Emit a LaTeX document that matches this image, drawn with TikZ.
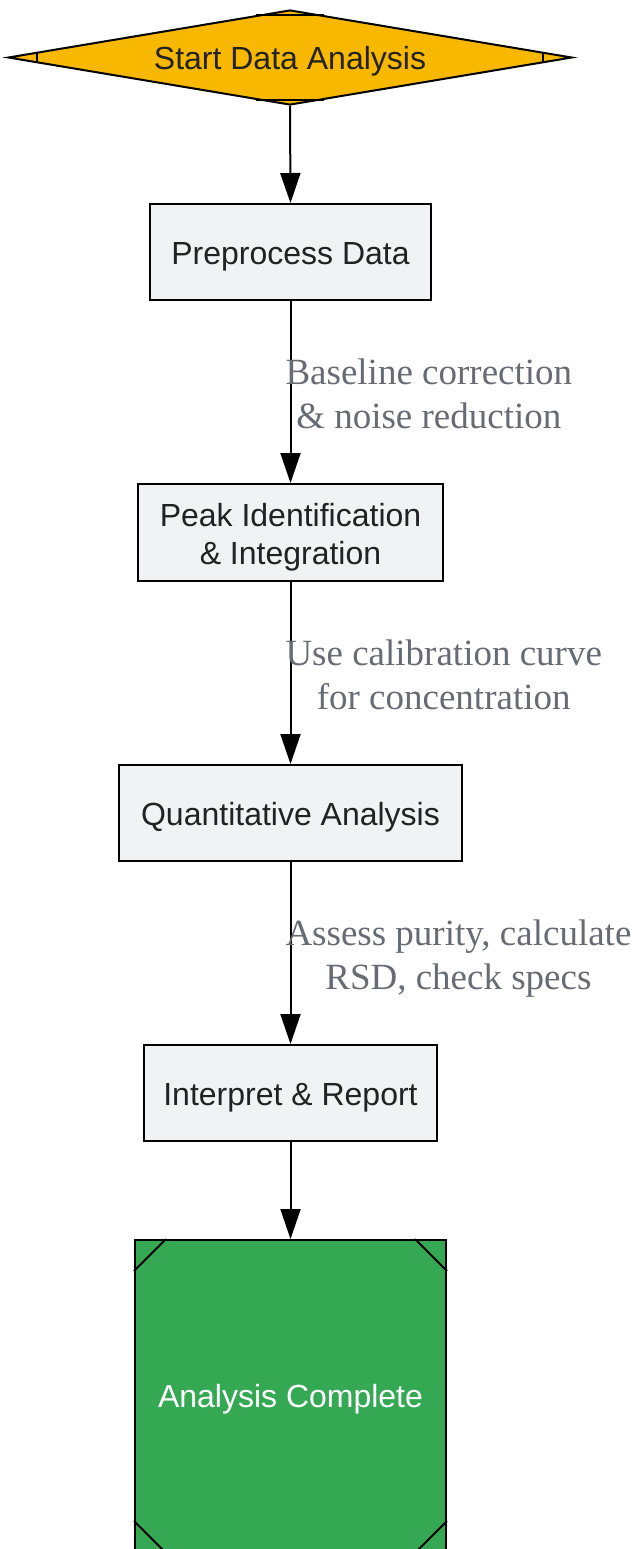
\documentclass[tikz,border=0pt]{standalone}
\usepackage{fontspec}
\setmainfont{Liberation Serif}
\setsansfont{Liberation Sans}
\usetikzlibrary{shapes.geometric,arrows.meta,calc}
\definecolor{startyellow}{HTML}{F9B800}
\definecolor{donegreen}{HTML}{34A853}
\definecolor{boxgray}{HTML}{F1F2F4}
\definecolor{labelgray}{HTML}{676B73}
\definecolor{textdark}{HTML}{222222}
\tikzset{
  procbox/.style={draw=black, line width=1pt, fill=boxgray, text=textdark,
    font=\sffamily\fontsize{16}{19}\selectfont, align=center, inner sep=0pt,
    text height=15.5pt},
  flow/.style={line width=1pt, -{Triangle[length=15pt,width=10pt]}},
  edgelabel/.style={text=labelgray, font=\fontsize{18.5}{22}\selectfont,
    align=center, anchor=west, xshift=-3pt, yshift=-4pt, inner sep=0pt,
    execute at begin node=\strut, execute at end node=\strut}
}
\begin{document}
\begin{tikzpicture}
    \useasboundingbox (0,0) rectangle (319.5pt,-774.5pt);
    % start diamond
    \node[diamond, aspect=6, draw=black, line width=1pt, fill=startyellow,
          text=textdark, font=\sffamily\fontsize{16}{19}\selectfont, text height=15pt,
          minimum width=282pt, minimum height=47.5pt, inner sep=0pt]
        (start) at (145pt,-28.75pt) {Start Data Analysis};
    \draw[line width=1pt] ($(start.west)!0.107!(start.north)$) -- ($(start.west)!0.107!(start.south)$);
    \draw[line width=1pt] ($(start.east)!0.107!(start.north)$) -- ($(start.east)!0.107!(start.south)$);
    \draw[line width=1pt] ($(start.north)!0.12!(start.west)$) -- ($(start.north)!0.12!(start.east)$);
    \draw[line width=1pt] ($(start.south)!0.12!(start.west)$) -- ($(start.south)!0.12!(start.east)$);
    % process steps
    \node[procbox, minimum width=140.5pt, minimum height=48pt] (prep) at (145.25pt,-126pt) {Preprocess Data};
    \node[procbox, minimum width=152.5pt, minimum height=48.5pt, text height=35.5pt] (peak) at (145.25pt,-266.25pt) {Peak Identification\\\& Integration};
    \node[procbox, minimum width=171.5pt, minimum height=48pt] (quant) at (145.25pt,-406.5pt) {Quantitative Analysis};
    \node[procbox, minimum width=146.5pt, minimum height=48pt] (report) at (145.25pt,-546.5pt) {Interpret \& Report};
    % end box
    \node[draw=black, line width=1pt, fill=donegreen, text=white,
          font=\sffamily\fontsize{16}{19}\selectfont, text height=15pt,
          minimum width=155.5pt, minimum height=156pt, inner sep=0pt]
        (done) at (145.25pt,-698pt) {Analysis Complete};
    \foreach \c/\dx/\dy in {north west/16/-16, north east/-16/-16, south west/16/16, south east/-16/16} {
        \draw[line width=1pt] ($(done.\c)+(\dx pt,0)$) -- ($(done.\c)+(0,\dy pt)$);
    }
    % connectors
    \draw[flow] (start.south) -- (prep.north);
    \draw[flow] (prep) -- node[edgelabel] {Baseline correction\\\& noise reduction} (peak);
    \draw[flow] (peak) -- node[edgelabel] {Use calibration curve\\for concentration} (quant);
    \draw[flow] (quant) -- node[edgelabel] {Assess purity, calculate\\RSD, check specs} (report);
    \draw[flow] (report) -- (done);
\end{tikzpicture}
\end{document}
